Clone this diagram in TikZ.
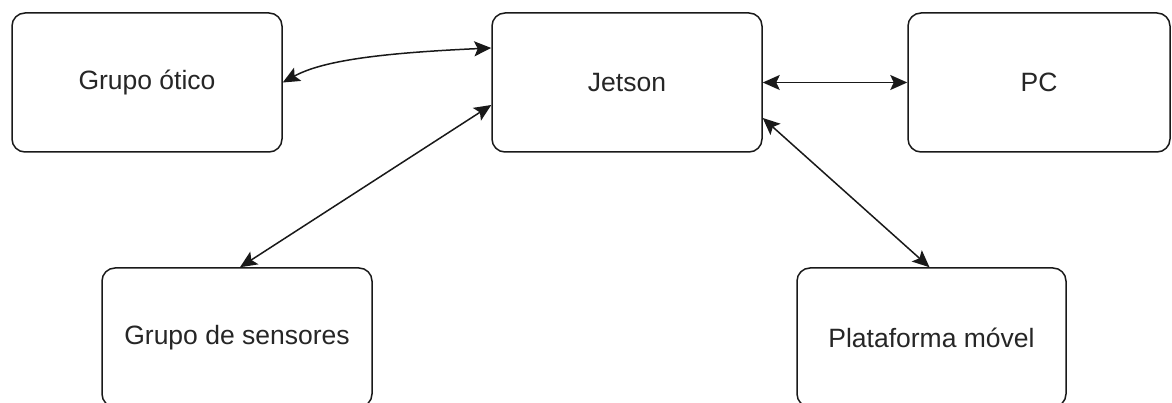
\documentclass[tikz,border=0pt]{standalone}
\usepackage{fontspec}
\setmainfont{Liberation Sans}
\usetikzlibrary{arrows.meta,calc}
\begin{document}
\begin{tikzpicture}[x=1pt,y=-1pt,
  block/.style={draw=black!90,line width=1.5pt,rounded corners=13pt,fill=white,
    minimum width=270pt,minimum height=139pt,inner sep=0pt,
    text=black!85,font=\fontsize{26.5}{31}\selectfont},
  link/.style={line width=1.5pt,draw=black!90,
    {Stealth[length=17pt,width=15pt,inset=3.5pt]}-{Stealth[length=17pt,width=15pt,inset=3.5pt]}}]
  \useasboundingbox (0,0) rectangle (1172,403);
  \clip (0,0) rectangle (1172,403);
  \fill[white] (0,0) rectangle (1172,403);

  % top row
  \node[block] (otico) at (147,82.5) {Grupo ótico};
  \node[block] (jetson) at (627,82.5) {Jetson};
  \node[block,minimum width=262pt] (pc) at (1039,82.5) {PC};
  % bottom row
  \node[block] (sens) at (237,337.5) {Grupo de sensores};
  \node[block,minimum width=269pt] (plat) at (931.5,337.5) {Plataforma móvel};

  % links
  \draw[link] (otico.east) .. controls +(40,-22) and +(-110,5) .. ($(jetson.west)+(0,-34.5)$);
  \draw[link] ($(jetson.west)+(0,22.5)$) -- ($(sens.north)+(3,0)$);
  \draw[link] (jetson.east) -- (pc.west);
  \draw[link] ($(jetson.east)+(0,35.5)$) -- ($(plat.north)+(-2,0)$);
\end{tikzpicture}
\end{document}
